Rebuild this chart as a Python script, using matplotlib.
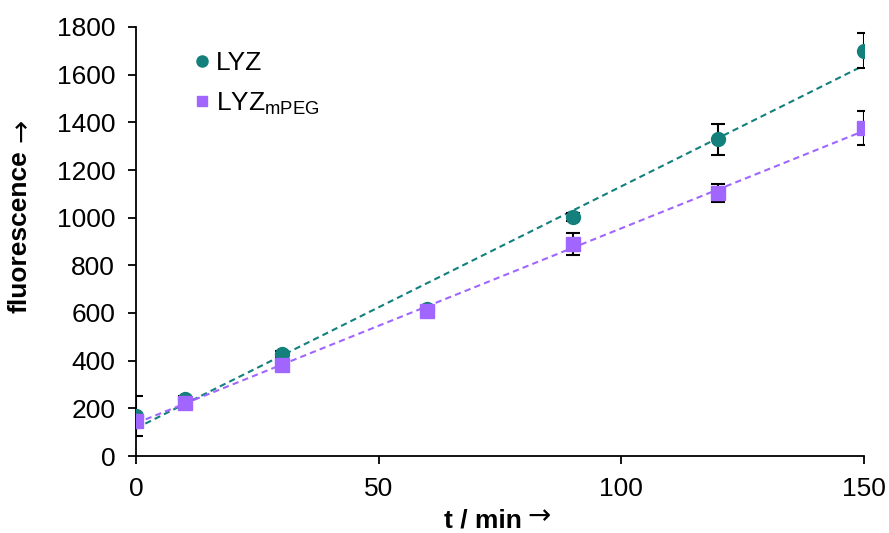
import numpy as np
import matplotlib
matplotlib.use('Agg')
import matplotlib.pyplot as plt

plt.rcParams['font.family'] = ['Liberation Sans', 'DejaVu Sans']
plt.rcParams['mathtext.fontset'] = 'custom'
plt.rcParams['mathtext.rm'] = 'Liberation Sans'
plt.rcParams['mathtext.it'] = 'Liberation Sans'

# data
t_lyz = [0, 10, 30, 60, 90, 120, 150]
y_lyz = [168, 240, 428, 615, 1003, 1330, 1700]
e_lyz = [85, 12, 12, 10, 15, 65, 73]

t_peg = [0, 10, 30, 60, 90, 120, 150]
y_peg = [145, 222, 382, 608, 889, 1103, 1376]
e_peg = [20, 12, 12, 10, 45, 38, 72]

teal = '#13807c'
purple = '#a066ff'

W, H = 889, 533
fig = plt.figure(figsize=(W/100, H/100), dpi=100)
ax = fig.add_axes([136/W, 1-456/H, (864-136)/W, (456-27)/H])

# trendlines (linear fits)
xx = np.array([0, 150])
for t, y, c in [(t_lyz, y_lyz, teal), (t_peg, y_peg, purple)]:
    k, b = np.polyfit(t, y, 1)
    ax.plot(xx, k*xx + b, '--', color=c, lw=1.5, dashes=(3, 2), zorder=2)

ax.errorbar(t_lyz, y_lyz, yerr=e_lyz, fmt='none', ecolor='black', elinewidth=1.5, capsize=5, capthick=1.5, zorder=3)
ax.errorbar(t_peg, y_peg, yerr=e_peg, fmt='none', ecolor='black', elinewidth=1.5, capsize=5, capthick=1.5, zorder=3)
ax.plot(t_lyz, y_lyz, 'o', color=teal, ms=10, mec=teal, zorder=4, label='LYZ')
ax.plot(t_peg, y_peg, 's', color=purple, ms=9.5, mec=purple, zorder=5, label='LYZ$_{\\mathrm{mPEG}}$')

ax.set_xlim(0, 150)
ax.set_ylim(0, 1800)
ax.set_xticks([0, 50, 100, 150])
ax.set_yticks(range(0, 1801, 200))
ax.spines['top'].set_visible(False)
ax.spines['right'].set_visible(False)
ax.spines['left'].set_linewidth(1.3)
ax.spines['bottom'].set_linewidth(1.3)
ax.tick_params(labelsize=19, width=1.3, length=6)
ax.tick_params(axis='y', pad=9)
ax.tick_params(axis='x', pad=9)

# axis labels, arrow drawn in DejaVu Sans
fig.text(522/W, 1-521/H, 't / min', ha='right', va='center', fontsize=19, fontweight='bold')
fig.text(527/W, 1-516/H, '\u2192', ha='left', va='center', fontsize=20, family='DejaVu Sans')
fig.text(20/W, 1-313/H, 'fluorescence', rotation=90, ha='center', va='bottom', fontsize=19, fontweight='bold')
fig.text(21/W, 1-142/H, '\u2192', rotation=90, ha='center', va='bottom', fontsize=20, family='DejaVu Sans')

leg = ax.legend(loc='upper left', bbox_to_anchor=(0.044, 1.0), frameon=False, fontsize=19,
                handlelength=0.8, handletextpad=0.1, labelspacing=0.6, markerscale=0.8)

fig.savefig('out.png', dpi=100)
